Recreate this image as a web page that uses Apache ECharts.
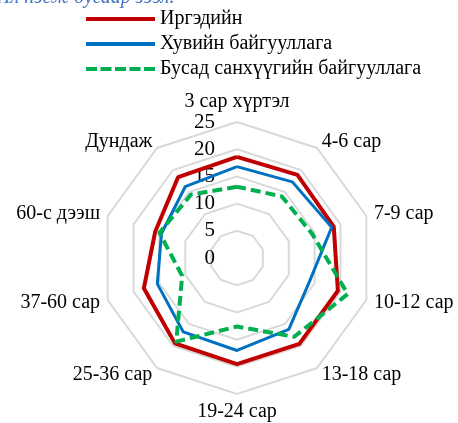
<!DOCTYPE html>
<html lang="mn">
<head>
    <meta charset="UTF-8">
    <title>Radar</title>
    <script src="https://cdn.jsdelivr.net/npm/echarts@6/dist/echarts.min.js"></script>
    <style>
        html, body { margin: 0; padding: 0; background: #fff; }
    </style>
</head>
<body>
<div id="chart" style="width:458px;height:423px"></div>
<script>
    // categories in clockwise order starting at the top
    var categories = ['3 сар хүртэл', '4-6 сар', '7-9 сар', '10-12 сар', '13-18 сар',
        '19-24 сар', '25-36 сар', '37-60 сар', '60-с дээш', 'Дундаж']
    var seriesNames = ['Иргэдийн', 'Хувийн байгууллага', 'Бусад санхүүгийн байгууллага']
    var citizens = [18.6, 18.9, 18.7, 19.5, 19.5, 19.5, 19.4, 18.0, 15.8, 18.4]
    var privateOrg = [16.8, 17.3, 18.3, 14.0, 16.2, 17.0, 16.8, 15.4, 14.6, 16.2]
    var otherFin = [13.1, 14.0, 14.5, 21.4, 17.9, 12.6, 19.0, 10.6, 15.0, 14.4]
    var axisMax = 25

    var myChart = echarts.init(document.getElementById('chart'))

    // echarts lays radar axes out counter-clockwise, so flip the order after the first one
    var order = [0]
    for (var i = categories.length - 1; i > 0; i--) order.push(i)
    function reorder(arr) {
        return order.map(function (k) { return arr[k] })
    }

    var indicator = reorder(categories).map(function (name, i) {
        var ind = {name: name, max: axisMax, min: 0}
        if (i === 0) ind.axisLabel = {show: true}
        return ind
    })

    var font = '"Liberation Serif", "Times New Roman", serif'
    var colors = ['#C00000', '#0070C0', '#00B050']
    var dashIcon = 'path://M0,0h11v4h-11z M14.5,0h11v4h-11z M29,0h11v4h-11z M43.5,0h11v4h-11z M58,0h11v4h-11z'
    var solidIcon = 'path://M0,0h69v4h-69z'

    myChart.setOption({
        animation: false,
        title: {
            text: 'Ил нэгж дугаар зээл.',
            left: -4,
            top: -12,
            padding: 0,
            textStyle: {
                fontFamily: font,
                fontStyle: 'italic',
                fontWeight: 'normal',
                fontSize: 20,
                color: '#4472C4'
            }
        },
        legend: {
            orient: 'vertical',
            left: 86,
            top: 9,
            padding: 0,
            itemWidth: 69,
            itemHeight: 4,
            itemGap: 5,
            textStyle: {fontFamily: font, fontSize: 20, color: '#000', lineHeight: 20},
            data: [
                {name: seriesNames[0], icon: solidIcon},
                {name: seriesNames[1], icon: solidIcon},
                {name: seriesNames[2], icon: dashIcon}
            ]
        },
        radar: {
            center: [237, 258],
            radius: 136,
            startAngle: 90,
            splitNumber: 5,
            shape: 'polygon',
            indicator: indicator,
            nameGap: 8,
            axisName: {fontFamily: font, fontSize: 20, color: '#000'},
            axisLine: {show: false},
            axisTick: {show: false},
            axisLabel: {show: false, fontFamily: font, fontSize: 21, color: '#000', margin: 22},
            splitLine: {lineStyle: {color: '#D9D9D9', width: 2}},
            splitArea: {show: false}
        },
        series: [{
            type: 'radar',
            symbol: 'none',
            data: [
                {
                    name: seriesNames[0], value: reorder(citizens),
                    lineStyle: {color: colors[0], width: 4}, itemStyle: {color: colors[0]}
                },
                {
                    name: seriesNames[1], value: reorder(privateOrg),
                    lineStyle: {color: colors[1], width: 3}, itemStyle: {color: colors[1]}
                },
                {
                    name: seriesNames[2], value: reorder(otherFin),
                    lineStyle: {color: colors[2], width: 4, type: [10, 5]}, itemStyle: {color: colors[2]}
                }
            ]
        }]
    })
</script>
</body>
</html>
